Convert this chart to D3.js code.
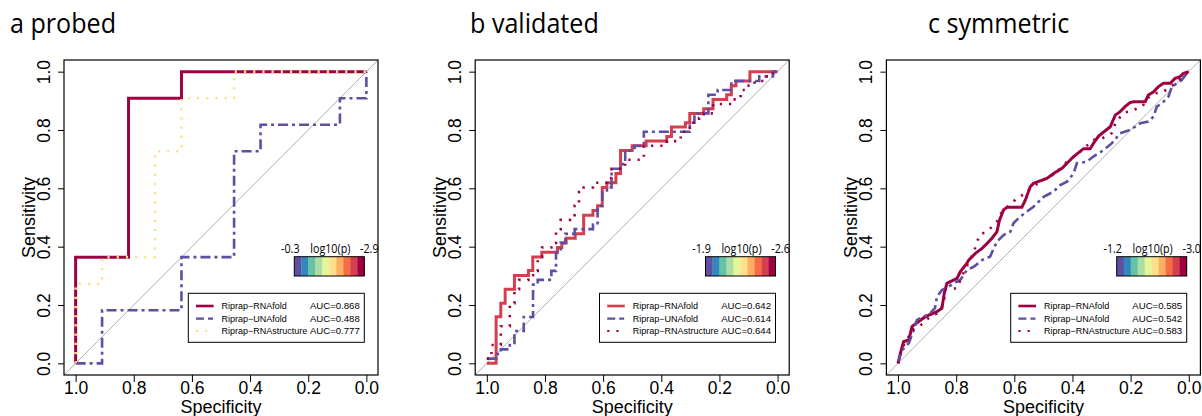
<!DOCTYPE html>
<html>
<head>
<meta charset="utf-8">
<script src="https://cdn.jsdelivr.net/npm/d3@7"></script>
<style>
  body { margin: 0; background: #fff; }
  svg { display: block; }
  .tick text { font-family: "Liberation Sans", Arial, sans-serif; font-size: 17.5px; fill: #000; }
  .tick line { stroke: #000; stroke-width: 1; }
</style>
</head>
<body>
<div id="chart"></div>
<script>
// ---- data ----
var seriesNames = ["Riprap\u2212RNAfold", "Riprap\u2212UNAfold", "Riprap\u2212RNAstructure"];
var panelTitles = ["a probed", "b validated", "c symmetric"];
var specTicks = [1.0, 0.8, 0.6, 0.4, 0.2, 0.0];
var sensTicks = [0.0, 0.2, 0.4, 0.6, 0.8, 1.0];

var aucProbed = ["0.868", "0.488", "0.777"];
var aucValidated = ["0.642", "0.614", "0.644"];
var aucSymmetric = ["0.585", "0.542", "0.583"];

var pLabelsProbed = ["-0.3", "-2.9"];
var pLabelsValidated = ["-1.9", "-2.6"];
var pLabelsSymmetric = ["-1.2", "-3.0"];

// points are [specificity, sensitivity]
var probedRNAfold = [[1,0],[1,0.364],[0.818,0.364],[0.818,0.909],[0.636,0.909],[0.636,1],[0,1]];
var probedUNAfold = [[1,0],[0.909,0],[0.909,0.182],[0.636,0.182],[0.636,0.364],[0.455,0.364],[0.455,0.727],
  [0.364,0.727],[0.364,0.818],[0.091,0.818],[0.091,0.909],[0,0.909],[0,1]];
var probedRNAstructure = [[1,0],[1,0.273],[0.909,0.273],[0.909,0.364],[0.727,0.364],[0.727,0.727],[0.636,0.727],
  [0.636,0.909],[0.455,0.909],[0.455,1],[0,1]];

var validatedRNAfold = [[1,0],[0.968,0],[0.968,0.16],[0.952,0.16],[0.952,0.206],[0.937,0.206],[0.937,0.254],
  [0.905,0.254],[0.905,0.301],[0.857,0.301],[0.857,0.318],[0.842,0.318],[0.842,0.365],[0.811,0.365],[0.811,0.381],
  [0.757,0.381],[0.757,0.397],[0.742,0.397],[0.742,0.413],[0.727,0.413],[0.727,0.429],[0.696,0.429],[0.696,0.444],
  [0.667,0.444],[0.667,0.508],[0.635,0.508],[0.635,0.524],[0.619,0.524],[0.619,0.54],[0.603,0.54],[0.603,0.603],
  [0.587,0.603],[0.587,0.619],[0.556,0.619],[0.556,0.651],[0.54,0.651],[0.54,0.73],[0.5,0.73],[0.5,0.746],
  [0.452,0.746],[0.452,0.762],[0.381,0.762],[0.381,0.778],[0.365,0.778],[0.365,0.81],[0.317,0.81],[0.317,0.825],
  [0.302,0.825],[0.302,0.857],[0.254,0.857],[0.254,0.873],[0.222,0.873],[0.222,0.905],[0.175,0.905],[0.175,0.921],
  [0.159,0.921],[0.159,0.952],[0.143,0.952],[0.143,0.968],[0.095,0.968],[0.095,1],[0,1]];
var validatedUNAfold = [[1,0.016],[0.968,0.016],[0.968,0.032],[0.952,0.032],[0.952,0.048],[0.921,0.048],[0.921,0.063],
  [0.905,0.063],[0.905,0.111],[0.873,0.111],[0.873,0.159],[0.841,0.159],[0.841,0.27],[0.825,0.27],[0.825,0.286],
  [0.778,0.286],[0.778,0.317],[0.762,0.317],[0.762,0.381],[0.746,0.381],[0.746,0.413],[0.73,0.413],[0.73,0.444],
  [0.698,0.444],[0.698,0.46],[0.635,0.46],[0.635,0.476],[0.619,0.476],[0.619,0.54],[0.603,0.54],[0.603,0.587],
  [0.587,0.587],[0.587,0.603],[0.571,0.603],[0.571,0.667],[0.54,0.667],[0.54,0.683],[0.524,0.683],[0.524,0.73],
  [0.492,0.73],[0.492,0.746],[0.46,0.746],[0.46,0.794],[0.302,0.794],[0.302,0.825],[0.286,0.825],[0.286,0.857],
  [0.238,0.857],[0.238,0.921],[0.206,0.921],[0.206,0.937],[0.159,0.937],[0.159,0.968],[0.063,0.968],[0.063,0.984],
  [0.016,0.984],[0.016,1],[0,1]];
var validatedRNAstructure = [[1,0.016],[0.984,0.016],[0.984,0.063],[0.952,0.063],[0.952,0.127],[0.921,0.127],
  [0.921,0.206],[0.905,0.206],[0.905,0.254],[0.889,0.254],[0.889,0.286],[0.857,0.286],[0.857,0.302],[0.841,0.302],
  [0.841,0.317],[0.825,0.317],[0.825,0.365],[0.81,0.365],[0.81,0.397],[0.778,0.397],[0.778,0.413],[0.762,0.413],
  [0.762,0.46],[0.746,0.46],[0.746,0.492],[0.714,0.492],[0.714,0.508],[0.698,0.508],[0.698,0.54],[0.683,0.54],
  [0.683,0.587],[0.667,0.587],[0.667,0.603],[0.635,0.603],[0.635,0.619],[0.587,0.619],[0.587,0.635],[0.571,0.635],
  [0.571,0.667],[0.524,0.667],[0.524,0.698],[0.46,0.698],[0.46,0.746],[0.381,0.746],[0.381,0.762],[0.333,0.762],
  [0.333,0.794],[0.302,0.794],[0.302,0.825],[0.27,0.825],[0.27,0.841],[0.254,0.841],[0.254,0.857],[0.222,0.857],
  [0.222,0.889],[0.159,0.889],[0.159,0.905],[0.127,0.905],[0.127,0.937],[0.111,0.937],[0.111,0.952],[0.079,0.952],
  [0.079,0.968],[0.048,0.968],[0.048,0.984],[0.016,0.984],[0.016,1],[0,1]];

var symmetricRNAfold = [[1,0],[0.992,0.034],[0.981,0.074],[0.963,0.08],[0.952,0.126],[0.935,0.139],[0.906,0.16],
  [0.866,0.177],[0.849,0.189],[0.841,0.24],[0.832,0.274],[0.797,0.291],[0.786,0.314],[0.763,0.343],[0.757,0.354],
  [0.734,0.377],[0.711,0.394],[0.694,0.411],[0.677,0.429],[0.66,0.451],[0.651,0.491],[0.637,0.526],[0.625,0.535],
  [0.574,0.535],[0.562,0.56],[0.545,0.606],[0.534,0.617],[0.488,0.634],[0.465,0.651],[0.436,0.669],[0.408,0.697],
  [0.396,0.709],[0.362,0.736],[0.339,0.736],[0.328,0.754],[0.31,0.779],[0.27,0.811],[0.253,0.851],[0.236,0.863],
  [0.219,0.88],[0.202,0.894],[0.19,0.897],[0.15,0.897],[0.139,0.92],[0.121,0.931],[0.104,0.949],[0.087,0.96],
  [0.064,0.96],[0.047,0.977],[0.03,0.983],[0.018,0.994],[0,1]];
var symmetricUNAfold = [[1,0],[0.992,0.029],[0.981,0.051],[0.963,0.069],[0.946,0.114],[0.935,0.149],[0.912,0.16],
  [0.89,0.171],[0.873,0.189],[0.866,0.229],[0.849,0.251],[0.826,0.263],[0.808,0.274],[0.786,0.286],[0.763,0.32],
  [0.74,0.331],[0.711,0.354],[0.683,0.366],[0.671,0.394],[0.66,0.417],[0.637,0.44],[0.614,0.451],[0.603,0.48],
  [0.58,0.503],[0.557,0.52],[0.534,0.537],[0.499,0.571],[0.465,0.589],[0.442,0.611],[0.419,0.623],[0.396,0.651],
  [0.385,0.686],[0.351,0.691],[0.328,0.709],[0.293,0.731],[0.265,0.754],[0.236,0.789],[0.202,0.8],[0.167,0.823],
  [0.139,0.829],[0.121,0.846],[0.11,0.88],[0.093,0.891],[0.07,0.914],[0.058,0.949],[0.041,0.96],[0.024,0.971],
  [0.007,0.994],[0,1]];
var symmetricRNAstructure = [[1,0],[0.99,0.045],[0.97,0.08],[0.95,0.115],[0.923,0.13],[0.89,0.16],[0.866,0.171],
  [0.845,0.2],[0.835,0.255],[0.797,0.257],[0.78,0.3],[0.76,0.34],[0.74,0.38],[0.72,0.44],[0.69,0.455],[0.66,0.486],
  [0.65,0.51],[0.62,0.54],[0.585,0.571],[0.565,0.58],[0.545,0.6],[0.5,0.63],[0.46,0.65],[0.42,0.69],[0.38,0.72],
  [0.328,0.766],[0.3,0.77],[0.265,0.789],[0.25,0.83],[0.22,0.86],[0.207,0.863],[0.16,0.88],[0.14,0.91],[0.12,0.925],
  [0.087,0.931],[0.06,0.95],[0.03,0.975],[0,1]];

// ---- drawing ----
var W = 1202, H = 416;
var palette = d3.schemeSpectral[10].slice().reverse(); // purple -> dark red

var panels = [
  { title: panelTitles[0], titleX: 10, series: [probedRNAfold, probedUNAfold, probedRNAstructure],
    colors: [palette[9], palette[0], palette[5]], auc: aucProbed, pLabels: pLabelsProbed },
  { title: panelTitles[1], titleX: 470, series: [validatedRNAfold, validatedUNAfold, validatedRNAstructure],
    colors: [palette[8], palette[0], palette[9]], auc: aucValidated, pLabels: pLabelsValidated },
  { title: panelTitles[2], titleX: 928, series: [symmetricRNAfold, symmetricUNAfold, symmetricRNAstructure],
    colors: [palette[9], palette[0], palette[9]], auc: aucSymmetric, pLabels: pLabelsSymmetric }
];

var styles = [
  { width: 3, dash: null },
  { width: 2.6, dash: "10,4,3,4" },
  { width: 2.6, dash: "2.2,7" }
];

var svg = d3.select("#chart").append("svg").attr("width", W).attr("height", H);

var boxW = 314, boxTop = 60, boxBottom = 375;

panels.forEach(function(p, i) {
  var left = 64 + i * 411.2;
  var right = left + boxW;

  var x = d3.scaleLinear().domain([1.04, -0.04]).range([left, right]);
  var y = d3.scaleLinear().domain([-0.04, 1.04]).range([boxBottom, boxTop]);

  var g = svg.append("g");

  // title
  g.append("text")
    .attr("transform", "translate(" + p.titleX + ",33) scale(0.93,1)")
    .style("font-family", "'Open Sans', sans-serif")
    .style("font-size", "27px")
    .text(p.title);

  g.append("clipPath").attr("id", "clip" + i)
    .append("rect").attr("x", left).attr("y", boxTop).attr("width", boxW).attr("height", boxBottom - boxTop);

  var plot = g.append("g").attr("clip-path", "url(#clip" + i + ")");

  // reference diagonal
  plot.append("line")
    .attr("x1", left).attr("y1", boxBottom).attr("x2", right).attr("y2", boxTop)
    .attr("stroke", "#b0b0b0").attr("stroke-width", 1);

  var line = d3.line()
    .x(function(d) { return x(d[0]); })
    .y(function(d) { return y(d[1]); });

  p.series.forEach(function(s, k) {
    plot.append("path")
      .datum(s)
      .attr("d", line)
      .attr("fill", "none")
      .attr("stroke", p.colors[k])
      .attr("stroke-width", styles[k].width)
      .attr("stroke-dasharray", styles[k].dash);
  });

  // axes
  var xAxis = d3.axisBottom(x).tickValues(specTicks).tickFormat(d3.format(".1f"))
    .tickSize(7).tickPadding(0);
  g.append("g").attr("transform", "translate(0," + boxBottom + ")").call(xAxis)
    .call(function(a) { a.select(".domain").remove(); });

  var yAxis = d3.axisLeft(y).tickValues(sensTicks).tickFormat(d3.format(".1f")).tickSize(6);
  g.append("g").attr("transform", "translate(" + left + ",0)").call(yAxis)
    .call(function(a) { a.select(".domain").remove(); })
    .selectAll(".tick text")
      .attr("transform", "rotate(-90)")
      .attr("x", 0).attr("y", -14).attr("dy", null)
      .attr("text-anchor", "middle");

  g.append("text")
    .attr("x", left + boxW / 2).attr("y", 412.5)
    .attr("text-anchor", "middle")
    .style("font-family", "'Liberation Sans', Arial, sans-serif")
    .style("font-size", "18px")
    .text("Specificity");

  g.append("text")
    .attr("transform", "translate(" + (left - 29) + "," + ((boxTop + boxBottom) / 2) + ") rotate(-90)")
    .attr("text-anchor", "middle")
    .style("font-family", "'Liberation Sans', Arial, sans-serif")
    .style("font-size", "18px")
    .text("Sensitivity");

  // colour key
  var cbRight = right - 13.7, cbW = 70, cbLeft = cbRight - cbW;
  var cbTop = 256.7, cbH = 19.3;
  var cbx = d3.scaleBand().domain(d3.range(palette.length)).range([cbLeft, cbRight]);
  g.selectAll(".cb" + i)
    .data(palette)
    .enter().append("rect")
      .attr("x", function(d, j) { return cbx(j); })
      .attr("y", cbTop)
      .attr("width", cbx.bandwidth() + 0.3)
      .attr("height", cbH)
      .attr("fill", function(d) { return d; });
  g.append("rect").attr("x", cbLeft).attr("y", cbTop).attr("width", cbW).attr("height", cbH)
    .attr("fill", "none").attr("stroke", "#000").attr("stroke-width", 1);

  var cbText = [
    { t: p.pLabels[0], x: cbLeft - 4 },
    { t: "log10(p)", x: cbLeft + cbW / 2 + 1 },
    { t: p.pLabels[1], x: cbRight + 5 }
  ];
  g.selectAll(".cbt" + i)
    .data(cbText)
    .enter().append("text")
      .attr("transform", function(d) { return "translate(" + d.x + ",252.5) scale(0.86,1)"; })
      .attr("text-anchor", "middle")
      .style("font-family", "'Open Sans', sans-serif")
      .style("font-size", "12.5px")
      .text(function(d) { return d.t; });

  // legend
  var lgW = 176, lgH = 49, lgRight = right - 13.7, lgLeft = lgRight - lgW, lgTop = 293.3;
  g.append("rect").attr("x", lgLeft).attr("y", lgTop).attr("width", lgW).attr("height", lgH)
    .attr("fill", "#fff").attr("stroke", "#000").attr("stroke-width", 1);
  var rowY = [306, 318.7, 331];
  seriesNames.forEach(function(name, k) {
    g.append("line")
      .attr("x1", lgLeft + 7.7).attr("x2", lgLeft + 25.3)
      .attr("y1", rowY[k]).attr("y2", rowY[k])
      .attr("stroke", p.colors[k])
      .attr("stroke-width", styles[k].width - 0.4)
      .attr("stroke-dasharray", k === 1 ? "8,4,5,4" : styles[k].dash);
    g.append("text")
      .attr("x", lgLeft + 33.3).attr("y", rowY[k] + 3.4)
      .style("font-family", "'Liberation Sans', Arial, sans-serif")
      .style("font-size", "9px")
      .text(name);
    g.append("text")
      .attr("x", lgRight - 4.5).attr("y", rowY[k] + 3.4)
      .attr("text-anchor", "end")
      .style("font-family", "'Liberation Sans', Arial, sans-serif")
      .style("font-size", "9.6px")
      .text("AUC=" + p.auc[k]);
  });

  // frame
  g.append("rect").attr("x", left).attr("y", boxTop).attr("width", boxW).attr("height", boxBottom - boxTop)
    .attr("fill", "none").attr("stroke", "#000").attr("stroke-width", 1.2);
});
</script>
</body>
</html>
